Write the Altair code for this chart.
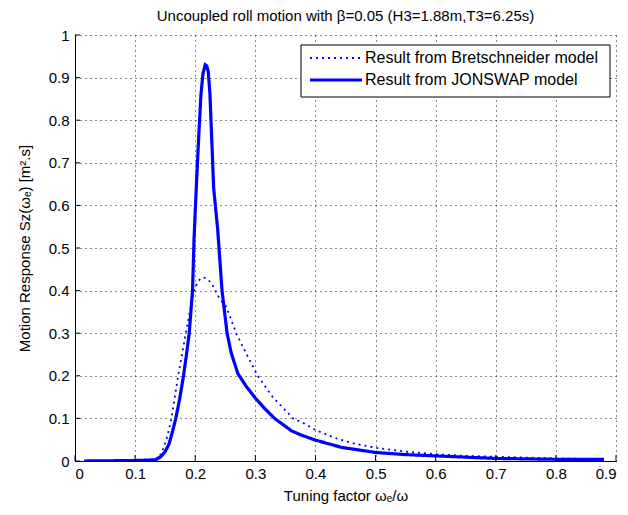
import altair as alt
import pandas as pd

# ---- data ----
series_names = ["Result from Bretschneider model", "Result from JONSWAP model"]

x_bret = [0.015, 0.09, 0.134, 0.141, 0.148, 0.154, 0.1605, 0.166, 0.1716, 0.178,
          0.1844, 0.191, 0.198, 0.204, 0.21, 0.216, 0.222, 0.23, 0.237, 0.244,
          0.251, 0.259, 0.268, 0.2875, 0.304, 0.329, 0.3627, 0.383, 0.4, 0.431,
          0.458, 0.5, 0.55, 0.6, 0.65, 0.7, 0.75, 0.8, 0.85, 0.88]
y_bret = [0.0, 0.0, 0.002, 0.012, 0.032, 0.06, 0.1, 0.15, 0.2, 0.25,
          0.3, 0.35, 0.4, 0.42, 0.43, 0.43, 0.425, 0.41, 0.39, 0.375,
          0.363, 0.335, 0.3, 0.245, 0.2, 0.15, 0.1, 0.087, 0.073, 0.055,
          0.043, 0.031, 0.022, 0.016, 0.012, 0.01, 0.008, 0.006, 0.005, 0.004]

x_jons = [0.015, 0.09, 0.12, 0.134, 0.1426, 0.15, 0.1565, 0.162, 0.1677, 0.174,
          0.1805, 0.1855, 0.19, 0.1955, 0.198, 0.2017, 0.2057, 0.2095, 0.213, 0.2167,
          0.219, 0.2217, 0.2245, 0.2274, 0.2307, 0.2373, 0.2446, 0.253, 0.26, 0.271,
          0.285, 0.2986, 0.315, 0.332, 0.36, 0.376, 0.4, 0.4435, 0.5, 0.55,
          0.6, 0.65, 0.7, 0.75, 0.8, 0.85, 0.88]
y_jons = [0.0, 0.001, 0.002, 0.003, 0.01, 0.022, 0.04, 0.068, 0.1, 0.145,
          0.2, 0.25, 0.3, 0.4, 0.52, 0.64, 0.758, 0.86, 0.91, 0.93,
          0.928, 0.914, 0.861, 0.758, 0.64, 0.545, 0.4, 0.3, 0.253, 0.205,
          0.175, 0.15, 0.124, 0.1, 0.071, 0.061, 0.049, 0.032, 0.02, 0.015,
          0.012, 0.009, 0.006, 0.005, 0.004, 0.004, 0.004]

x_ticks = [0.0, 0.1, 0.2, 0.3, 0.4, 0.5, 0.6, 0.7, 0.8, 0.9]
y_ticks = [0.0, 0.1, 0.2, 0.3, 0.4, 0.5, 0.6, 0.7, 0.8, 0.9, 1.0]

title_text = "Uncoupled roll motion with β=0.05 (H3=1.88m,T3=6.25s)"
x_title = "Tuning factor ωₑ/ω"
y_title = "Motion Response Sz(ωₑ) [m².s]"

FONT = "Liberation Sans"
BLUE = "#0000ff"
DOT = [2, 4]
W_DOT = 1.8
W_SOLID = 3.2

df = pd.concat([
    pd.DataFrame({"x": x_bret, "y": y_bret, "series": series_names[0]}),
    pd.DataFrame({"x": x_jons, "y": y_jons, "series": series_names[1]}),
], ignore_index=True)

x_scale = alt.Scale(domain=[0, 0.9], nice=False, zero=False)
y_scale = alt.Scale(domain=[0, 1], nice=False, zero=False)

lines = alt.Chart(df).mark_line(clip=True, color=BLUE).encode(
    x=alt.X("x:Q", scale=x_scale,
            axis=alt.Axis(values=x_ticks, format=".1~f", title=x_title,
                          labelPadding=5, titlePadding=7)),
    y=alt.Y("y:Q", scale=y_scale,
            axis=alt.Axis(values=y_ticks, format=".1~f", title=y_title,
                          labelPadding=6, titlePadding=16)),
    detail="series:N",
    strokeDash=alt.StrokeDash("series:N",
                              scale=alt.Scale(domain=series_names, range=[DOT, [1, 0]]),
                              legend=None),
    strokeWidth=alt.StrokeWidth("series:N",
                                scale=alt.Scale(domain=series_names, range=[W_DOT, W_SOLID]),
                                legend=None),
)

# inward ticks (MATLAB style)
tick_len_y = 0.014
tick_len_x = 0.0085
xt = pd.DataFrame({"x": x_ticks, "y0": [0.0] * len(x_ticks), "y1": [tick_len_y] * len(x_ticks)})
yt = pd.DataFrame({"y": y_ticks, "x0": [0.0] * len(y_ticks), "x1": [tick_len_x] * len(y_ticks)})

xticks = alt.Chart(xt).mark_rule(color="black", strokeWidth=1).encode(
    x=alt.X("x:Q", scale=x_scale), y=alt.Y("y0:Q", scale=y_scale), y2="y1:Q")
yticks = alt.Chart(yt).mark_rule(color="black", strokeWidth=1).encode(
    y=alt.Y("y:Q", scale=y_scale), x=alt.X("x0:Q", scale=x_scale), x2="x1:Q")

# legend box (MATLAB style, inside the plot, top right)
one = pd.DataFrame({"k": [0]})
LX0, LX1, LY0, LY1 = 226, 535, 10, 62
SX0, SX1, TX = 235, 287, 290
ROW1, ROW2 = 23, 45

leg_box = alt.Chart(one).mark_rect(fill="white", stroke="black", strokeWidth=1).encode(
    x=alt.value(LX0), x2=alt.value(LX1), y=alt.value(LY0), y2=alt.value(LY1))
leg_s1 = alt.Chart(one).mark_rule(color=BLUE, strokeWidth=W_DOT, strokeDash=DOT).encode(
    x=alt.value(SX0), x2=alt.value(SX1), y=alt.value(ROW1))
leg_s2 = alt.Chart(one).mark_rule(color=BLUE, strokeWidth=W_SOLID).encode(
    x=alt.value(SX0), x2=alt.value(SX1), y=alt.value(ROW2))
leg_t1 = alt.Chart(one).mark_text(align="left", baseline="middle", font=FONT, fontSize=16,
                                  color="black").encode(
    x=alt.value(TX), y=alt.value(ROW1), text=alt.value(series_names[0]))
leg_t2 = alt.Chart(one).mark_text(align="left", baseline="middle", font=FONT, fontSize=16,
                                  color="black").encode(
    x=alt.value(TX), y=alt.value(ROW2), text=alt.value(series_names[1]))

chart = alt.layer(lines, xticks, yticks, leg_box, leg_s1, leg_s2, leg_t1, leg_t2).properties(
    width=541, height=426,
    padding={"left": 9, "top": 1, "right": 0, "bottom": 2},
    title=alt.TitleParams(title_text, font=FONT, fontSize=15, fontWeight="normal",
                          color="black", anchor="middle", frame="group", offset=4),
).configure_view(stroke=None).configure_axis(
    labelFont=FONT, labelFontSize=15, labelColor="black",
    titleFont=FONT, titleFontSize=15, titleFontWeight="normal", titleColor="black",
    domainColor="black", domainWidth=1, ticks=False,
    grid=True, gridColor="black", gridDash=[1, 4], gridWidth=1, gridOpacity=0.9,
)

chart.save("out.html", embed_options={"renderer": "svg", "actions": False})
